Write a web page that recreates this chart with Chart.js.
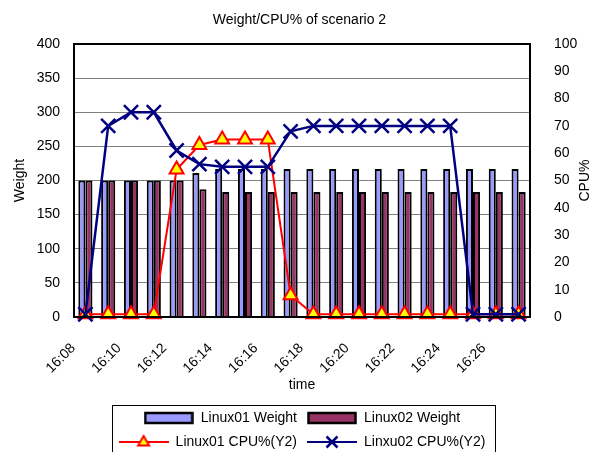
<!DOCTYPE html>
<html>
<head>
<meta charset="utf-8">
<title>Weight/CPU% of scenario 2</title>
<script src="https://cdn.jsdelivr.net/npm/chart.js@4.4.1/dist/chart.umd.min.js"></script>
<style>
  html, body { margin: 0; padding: 0; background: #fff; }
</style>
</head>
<body>
<canvas id="chart" width="599" height="452"></canvas>
<script>
// data
const categories = ['16:08','16:09','16:10','16:11','16:12','16:13','16:14','16:15','16:16','16:17',
                    '16:18','16:19','16:20','16:21','16:22','16:23','16:24','16:25','16:26','16:27'];
const shownTimes = ['16:08','16:10','16:12','16:14','16:16','16:18','16:20','16:22','16:24','16:26'];
const linux01Weight = [200,200,200,200,200,211,217,217,217,217,217,217,217,217,217,217,217,217,217,217];
const linux02Weight = [200,200,200,200,200,187,183,183,183,183,183,183,183,183,183,183,183,183,183,183];
const linux01Cpu = [1,1,1,1,54,63,65,65,65,8,1,1,1,1,1,1,1,1,1,1];
const linux02Cpu = [1,70,75,75,61,56,55,55,55,68,70,70,70,70,70,70,70,1,1,1];

const FONT = "'Liberation Sans', Arial, sans-serif";
Chart.defaults.font.family = FONT;
Chart.defaults.font.size = 14;
Chart.defaults.color = '#000';

// legend swatches drawn on small canvases (bar box / line with marker)
function barSwatch(color) {
    const c = document.createElement('canvas');
    c.width = 50; c.height = 14;
    const ctx = c.getContext('2d');
    ctx.fillStyle = color;
    ctx.fillRect(1.5, 2, 47, 10);
    ctx.lineWidth = 2.5;
    ctx.strokeStyle = '#000';
    ctx.strokeRect(1.5, 2, 47, 10);
    return c;
}
function lineSwatch(color, marker) {
    const c = document.createElement('canvas');
    c.width = 50; c.height = 16;
    const ctx = c.getContext('2d');
    ctx.strokeStyle = color;
    ctx.lineWidth = 2;
    ctx.beginPath(); ctx.moveTo(0, 8); ctx.lineTo(50, 8); ctx.stroke();
    ctx.beginPath();
    if (marker === 'triangle') {
        ctx.moveTo(25, 2); ctx.lineTo(30.5, 11.5); ctx.lineTo(19.5, 11.5); ctx.closePath();
        ctx.fillStyle = '#FFFF00'; ctx.fill();
        ctx.stroke();
    } else {
        ctx.lineWidth = 2.5;
        ctx.moveTo(19.5, 2.5); ctx.lineTo(30.5, 13.5);
        ctx.moveTo(30.5, 2.5); ctx.lineTo(19.5, 13.5);
        ctx.stroke();
    }
    return c;
}

const extras = {
    id: 'extras',
    afterDraw(chart) {
        const {ctx, chartArea: a, legend} = chart;
        ctx.save();
        // plot frame
        ctx.strokeStyle = '#000';
        ctx.lineWidth = 2;
        ctx.strokeRect(a.left, a.top, a.right - a.left, a.bottom - a.top);
        // legend frame
        const boxes = legend.legendHitBoxes;
        const l = Math.min(...boxes.map(b => b.left)) - 7;
        const r = Math.max(...boxes.map(b => b.left + b.width)) + 9;
        const t = Math.min(...boxes.map(b => b.top)) - 6;
        ctx.lineWidth = 1;
        ctx.strokeRect(Math.round(l) + 0.5, Math.round(t) + 0.5, Math.round(r - l), chart.height - t + 10);
        // right axis title, reading upwards like the left one
        ctx.fillStyle = '#000';
        ctx.font = '14px ' + FONT;
        ctx.textAlign = 'center';
        ctx.textBaseline = 'middle';
        ctx.translate(a.right + 55, (a.top + a.bottom) / 2);
        ctx.rotate(-Math.PI / 2);
        ctx.fillText('CPU%', 0, 0);
        ctx.restore();
    }
};

const ctx = document.getElementById('chart').getContext('2d');
new Chart(ctx, {
    type: 'bar',
    data: {
        labels: categories,
        datasets: [
            {
                label: 'Linux01 Weight', data: linux01Weight, yAxisID: 'y',
                backgroundColor: '#9999FF', borderColor: '#000', borderWidth: 2,
                categoryPercentage: 0.62, barPercentage: 1.0, order: 3
            },
            {
                label: 'Linux02 Weight', data: linux02Weight, yAxisID: 'y',
                backgroundColor: '#993366', borderColor: '#000', borderWidth: 2,
                categoryPercentage: 0.62, barPercentage: 1.0, order: 3
            },
            {
                type: 'line', label: 'Linux01 CPU%(Y2)', data: linux01Cpu, yAxisID: 'y2',
                borderColor: '#FF0000', borderWidth: 2, tension: 0, clip: false,
                pointStyle: 'triangle', pointRadius: 8, pointHoverRadius: 8,
                pointBackgroundColor: '#FFFF00', pointBorderColor: '#FF0000', pointBorderWidth: 2,
                order: 2
            },
            {
                type: 'line', label: 'Linxu02 CPU%(Y2)', data: linux02Cpu, yAxisID: 'y2',
                borderColor: '#000080', borderWidth: 2.5, tension: 0, clip: false,
                pointStyle: 'crossRot', pointRadius: 10, pointHoverRadius: 10,
                pointBorderColor: '#000080', pointBorderWidth: 2.5,
                order: 1
            }
        ]
    },
    options: {
        responsive: false,
        animation: false,
        layout: {padding: 0},
        plugins: {
            title: {
                display: true,
                text: 'Weight/CPU% of scenario 2',
                font: {size: 14, weight: 'normal'},
                padding: {top: 12, bottom: 15.2}
            },
            legend: {
                position: 'bottom',
                fullSize: false,
                maxHeight: 51,
                labels: {
                    usePointStyle: true,
                    pointStyleWidth: 50,
                    padding: 10,
                    font: {size: 14},
                    generateLabels: (chart) => chart.data.datasets.map((ds, i) => ({
                        text: ds.label,
                        datasetIndex: i,
                        hidden: false,
                        lineWidth: 0,
                        pointStyle: ds.type === 'line'
                            ? lineSwatch(ds.borderColor, ds.pointStyle)
                            : barSwatch(ds.backgroundColor)
                    }))
                }
            },
            tooltip: {enabled: false}
        },
        scales: {
            x: {
                grid: {display: false},
                border: {display: false},
                ticks: {
                    autoSkip: false, minRotation: 45, maxRotation: 45,
                    padding: 15, labelOffset: -12,
                    callback: function (v, i) {
                        const t = categories[i];
                        return shownTimes.includes(t) ? t : '';
                    }
                },
                title: {display: true, text: 'time', padding: {top: 0, bottom: 7}},
                afterFit: (s) => { s.height = 84; }
            },
            y: {
                position: 'left',
                min: 0, max: 400,
                ticks: {stepSize: 50, padding: 14},
                grid: {color: '#808080', lineWidth: 1, drawTicks: false},
                border: {display: false},
                title: {display: true, text: 'Weight', padding: {top: 12, bottom: 0}},
                afterFit: (s) => { s.width = 74; }
            },
            y2: {
                position: 'right',
                min: 0, max: 100,
                ticks: {stepSize: 10, padding: 16},
                grid: {display: false},
                border: {display: false},
                afterFit: (s) => { s.width = 69; }
            }
        }
    },
    plugins: [extras]
});
</script>
</body>
</html>
